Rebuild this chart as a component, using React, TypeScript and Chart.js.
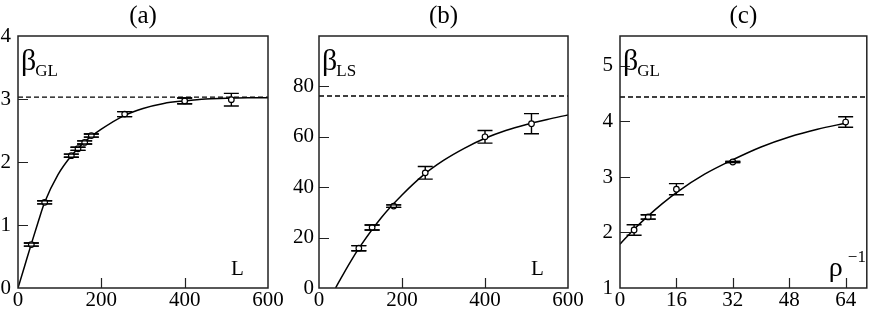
import { useEffect, useRef } from 'react';
import { Chart, registerables } from 'chart.js';

Chart.register(...registerables);

const FONT = '"Liberation Serif", "Times New Roman", serif';

// ---------- Panel (a): beta_GL vs L ----------
const aPointL = [32, 64, 128, 144, 160, 176, 256, 400, 512];
const aPointBeta = [0.69, 1.36, 2.1, 2.21, 2.31, 2.42, 2.76, 2.97, 2.99];
const aPointErr = [0.025, 0.025, 0.025, 0.025, 0.025, 0.025, 0.04, 0.045, 0.1];
const aFitL = [0, 16, 32, 48, 64, 96, 128, 160, 200, 256, 300, 350, 400, 450, 500, 550, 600];
const aFitBeta = [0, 0.35, 0.7, 1.04, 1.36, 1.8, 2.1, 2.32, 2.52, 2.74, 2.85, 2.93, 2.97, 3.0, 3.01, 3.02, 3.02];
const aLimit = 3.03;
const aXTicks = [0, 200, 400, 600];
const aYTicks = [0, 1, 2, 3, 4];

// ---------- Panel (b): beta_LS vs L ----------
const bPointL = [96, 128, 180, 256, 400, 512];
const bPointBeta = [15.8, 24.0, 32.5, 45.7, 60.0, 65.2];
const bPointErr = [1.0, 1.0, 0.5, 2.5, 2.5, 4.0];
const bFitL = [40, 50, 75, 100, 150, 200, 250, 300, 350, 400, 450, 500, 550, 600];
const bFitBeta = [0, 3.0, 10.2, 16.7, 27.9, 36.9, 44.6, 50.6, 55.4, 59.4, 62.5, 64.9, 66.9, 68.7];
const bLimit = 76.2;
const bXTicks = [0, 200, 400, 600];
const bYTicks = [0, 20, 40, 60, 80];

// ---------- Panel (c): beta_GL vs rho^-1 ----------
const cPointRho = [4, 8, 16, 32, 64];
const cPointBeta = [2.045, 2.28, 2.78, 3.27, 3.99];
const cPointErr = [0.095, 0.04, 0.1, 0.012, 0.095];
const cFitRho = [0, 4, 8, 12, 16, 24, 32, 40, 48, 56, 64];
const cFitBeta = [1.79, 2.06, 2.3, 2.52, 2.72, 3.05, 3.31, 3.54, 3.72, 3.86, 3.97];
const cLimit = 4.44;
const cXTicks = [0, 16, 32, 48, 64];
const cYTicks = [1, 2, 3, 4, 5];

const HEIGHT = 312;
const PLOT_TOP = 36;
const PLOT_BOTTOM = 288;

type Panel = {
  title: string;
  left: number;
  width: number;
  plotLeft: number;
  plotRight: number;
  xMin: number;
  xMax: number;
  yMin: number;
  yMax: number;
  xTicks: number[];
  yTicks: number[];
  px: number[];
  py: number[];
  pe: number[];
  fx: number[];
  fy: number[];
  limit: number;
  yMain: string;
  ySub: string;
  xMain: string;
  xSup: string;
  yPad: number;
};

const panels: Panel[] = [
  {
    title: '(a)', left: 0, width: 290, plotLeft: 18, plotRight: 268,
    xMin: 0, xMax: 600, yMin: 0, yMax: 4, xTicks: aXTicks, yTicks: aYTicks,
    px: aPointL, py: aPointBeta, pe: aPointErr, fx: aFitL, fy: aFitBeta, limit: aLimit,
    yMain: 'β', ySub: 'GL', xMain: 'L', xSup: '', yPad: 7,
  },
  {
    title: '(b)', left: 290, width: 300, plotLeft: 29, plotRight: 278,
    xMin: 0, xMax: 600, yMin: 0, yMax: 100, xTicks: bXTicks, yTicks: bYTicks,
    px: bPointL, py: bPointBeta, pe: bPointErr, fx: bFitL, fy: bFitBeta, limit: bLimit,
    yMain: 'β', ySub: 'LS', xMain: 'L', xSup: '', yPad: 5,
  },
  {
    title: '(c)', left: 590, width: 282, plotLeft: 30, plotRight: 279,
    xMin: 0, xMax: 70, yMin: 1, yMax: 5.54, xTicks: cXTicks, yTicks: cYTicks,
    px: cPointRho, py: cPointBeta, pe: cPointErr, fx: cFitRho, fy: cFitBeta, limit: cLimit,
    yMain: 'β', ySub: 'GL', xMain: 'ρ', xSup: '−1', yPad: 7,
  },
];

const framePlugin = {
  id: 'frame',
  beforeDatasetsDraw(chart: any, _args: any, opts: any) {
    const p: Panel = opts.panel;
    const { ctx, scales } = chart;
    const x = scales.x;
    const y = scales.y;
    ctx.save();
    ctx.strokeStyle = '#000';
    ctx.lineWidth = 1.4;
    p.px.forEach((xv, i) => {
      const cx = x.getPixelForValue(xv);
      const y1 = y.getPixelForValue(p.py[i] - p.pe[i]);
      const y2 = y.getPixelForValue(p.py[i] + p.pe[i]);
      ctx.beginPath();
      ctx.moveTo(cx, y1);
      ctx.lineTo(cx, y2);
      ctx.moveTo(cx - 7.5, y1);
      ctx.lineTo(cx + 7.5, y1);
      ctx.moveTo(cx - 7.5, y2);
      ctx.lineTo(cx + 7.5, y2);
      ctx.stroke();
    });
    ctx.restore();
  },
  afterDatasetsDraw(chart: any, _args: any, opts: any) {
    // caps that are closer than the marker size sit on top of it (as in the original)
    const p: Panel = opts.panel;
    const { ctx, scales } = chart;
    const x = scales.x;
    const y = scales.y;
    ctx.save();
    ctx.strokeStyle = '#000';
    ctx.lineWidth = 1.4;
    p.px.forEach((xv, i) => {
      const cx = x.getPixelForValue(xv);
      const y1 = y.getPixelForValue(p.py[i] - p.pe[i]);
      const y2 = y.getPixelForValue(p.py[i] + p.pe[i]);
      if (Math.abs(y1 - y2) > 6) return;
      ctx.beginPath();
      ctx.moveTo(cx - 7.5, y1);
      ctx.lineTo(cx + 7.5, y1);
      ctx.moveTo(cx - 7.5, y2);
      ctx.lineTo(cx + 7.5, y2);
      ctx.stroke();
    });
    ctx.restore();
  },
  afterDraw(chart: any, _args: any, opts: any) {
    const p: Panel = opts.panel;
    const { ctx, chartArea: ca, scales } = chart;
    const x = scales.x;
    const y = scales.y;
    ctx.save();
    ctx.strokeStyle = '#222';
    ctx.lineWidth = 1.5;
    ctx.strokeRect(ca.left, ca.top, ca.right - ca.left, ca.bottom - ca.top);
    ctx.beginPath();
    p.xTicks.forEach((v) => {
      if (v <= p.xMin || v >= p.xMax) return;
      const px = Math.round(x.getPixelForValue(v)) + 0.5;
      ctx.moveTo(px, ca.bottom);
      ctx.lineTo(px, ca.bottom - 10);
    });
    p.yTicks.forEach((v) => {
      if (v <= p.yMin || v >= p.yMax) return;
      const py = Math.round(y.getPixelForValue(v)) + 0.5;
      ctx.moveTo(ca.left, py);
      ctx.lineTo(ca.left + 10, py);
    });
    ctx.lineWidth = 1.2;
    ctx.stroke();

    ctx.fillStyle = '#000';
    ctx.textBaseline = 'alphabetic';
    // title
    ctx.textAlign = 'center';
    ctx.font = `25px ${FONT}`;
    ctx.fillText(p.title, (ca.left + ca.right) / 2, 23);
    // y label
    ctx.textAlign = 'left';
    ctx.font = `30px ${FONT}`;
    const bx = ca.left + 3;
    ctx.fillText(p.yMain, bx, ca.top + 34);
    const bw = ctx.measureText(p.yMain).width;
    ctx.font = `17px ${FONT}`;
    ctx.fillText(p.ySub, bx + bw - 1, ca.top + 40);
    // x label
    if (p.xSup) {
      ctx.font = `28px ${FONT}`;
      ctx.fillText(p.xMain, ca.right - 38, ca.bottom - 12);
      ctx.font = `17px ${FONT}`;
      ctx.fillText(p.xSup, ca.right - 19, ca.bottom - 26);
    } else {
      ctx.font = `21px ${FONT}`;
      ctx.fillText(p.xMain, ca.right - 37, ca.bottom - 13);
    }
    ctx.restore();
  },
};

function PanelChart({ p }: { p: Panel }) {
  const ref = useRef<HTMLCanvasElement | null>(null);
  useEffect(() => {
    if (!ref.current) return;
    const chart = new Chart(ref.current, {
      type: 'scatter',
      data: {
        datasets: [
          {
            data: p.px.map((v, i) => ({ x: v, y: p.py[i] })),
            showLine: false,
            pointRadius: 2.8,
            pointBorderWidth: 1.2,
            pointBorderColor: '#000',
            pointBackgroundColor: '#fff',
          },
          {
            data: p.fx.map((v, i) => ({ x: v, y: p.fy[i] })),
            showLine: true,
            borderColor: '#000',
            borderWidth: 1.5,
            pointRadius: 0,
            cubicInterpolationMode: 'monotone',
          },
          {
            data: [
              { x: p.xMin, y: p.limit },
              { x: p.xMax, y: p.limit },
            ],
            showLine: true,
            borderColor: '#000',
            borderWidth: 1.4,
            borderDash: [5, 3],
            pointRadius: 0,
          },
        ],
      } as any,
      options: {
        animation: false,
        responsive: false,
        maintainAspectRatio: false,
        events: [],
        layout: { padding: { left: 0, right: p.width - p.plotRight, top: PLOT_TOP, bottom: 0 } },
        plugins: {
          legend: { display: false },
          tooltip: { enabled: false },
          title: { display: false },
          frame: { panel: p },
        } as any,
        scales: {
          x: {
            type: 'linear',
            min: p.xMin,
            max: p.xMax,
            afterBuildTicks: (s: any) => {
              s.ticks = p.xTicks.map((v) => ({ value: v }));
            },
            afterFit: (s: any) => {
              s.height = HEIGHT - PLOT_BOTTOM;
            },
            grid: { display: false, drawTicks: false },
            border: { display: false },
            ticks: {
              font: { family: FONT, size: 21 },
              color: '#000',
              padding: 0,
              maxRotation: 0,
              autoSkip: false,
            },
          },
          y: {
            type: 'linear',
            min: p.yMin,
            max: p.yMax,
            afterBuildTicks: (s: any) => {
              s.ticks = p.yTicks.map((v) => ({ value: v }));
            },
            afterFit: (s: any) => {
              s.width = p.plotLeft;
            },
            grid: { display: false, drawTicks: false },
            border: { display: false },
            ticks: {
              font: { family: FONT, size: 21 },
              color: '#000',
              padding: p.yPad,
              autoSkip: false,
            },
          },
        },
      } as any,
      plugins: [framePlugin as any],
    });
    return () => chart.destroy();
  }, [p]);
  return (
    <canvas
      ref={ref}
      width={p.width}
      height={HEIGHT}
      style={{ position: 'absolute', left: p.left, top: 0, width: p.width, height: HEIGHT }}
    />
  );
}

export default function App() {
  return (
    <div
      style={{
        position: 'fixed',
        left: 0,
        top: 0,
        width: 872,
        height: HEIGHT,
        background: '#fff',
        overflow: 'hidden',
      }}
    >
      {panels.map((p) => (
        <PanelChart key={p.title} p={p} />
      ))}
    </div>
  );
}
